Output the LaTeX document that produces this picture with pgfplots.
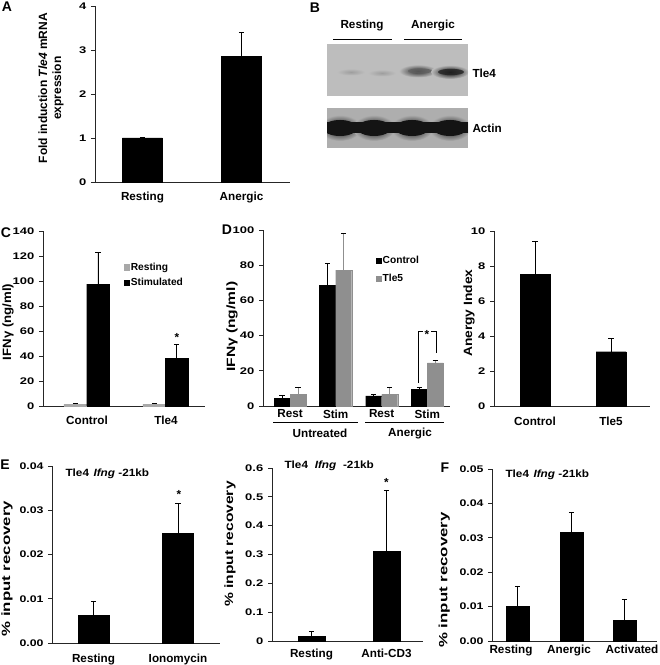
\documentclass[border=0pt]{standalone}
\usepackage{graphicx}
\usepackage{pgfplots}
\pgfplotsset{compat=1.18}
\usepackage{fontspec}
\setmainfont{Liberation Sans}
\definecolor{lgray}{HTML}{A8A8A8}
\definecolor{mgray}{HTML}{8F8F8F}
\definecolor{blotA}{HTML}{BDBDBD}
\definecolor{blotB}{HTML}{AEAEAE}
\newcommand{\catfont}{\bfseries\fontsize{11.7}{13}\selectfont}
\newcommand{\numfont}{\bfseries\fontsize{9.6}{11}\selectfont}
\newcommand{\legfont}{\bfseries\fontsize{10.2}{12}\selectfont}
\newcommand{\labfont}{\bfseries\fontsize{12}{14}\selectfont}
\newcommand{\letfont}{\bfseries\fontsize{14}{16}\selectfont}
\newcommand{\titfont}{\bfseries\fontsize{10.5}{12}\selectfont}
\newcommand{\sx}[2]{\scalebox{#1}[1]{#2}}
\pgfplotsset{
  panel/.style={
    scale only axis, anchor=south west, clip=false,
    axis x line*=bottom, axis y line*=left,
    axis line style={-, line width=0.8pt, black!85},
    ymin=0,
    ytick align=outside, xtick align=inside, major tick length=4pt,
    ytick style={line width=0.7pt, black!85},
    xtick style={draw=none},
    xticklabel style={font=\catfont},
    yticklabel style={font=\numfont, xscale=1.35},
    /pgf/number format/assume math mode=true,
    scaled y ticks=false,
    ylabel style={font=\labfont, align=center},
    legend image code/.code={\fill[##1] (0pt,-2.6pt) rectangle (5.2pt,2.6pt);},
    legend style={draw=none, fill=none, font=\legfont, inner sep=0pt, row sep=4pt, nodes={inner sep=1.5pt}, cells={anchor=west}},
  },
  bars/.style={ybar, bar shift=0pt, bar width=#1,
    /pgfplots/error bars/y dir=plus, /pgfplots/error bars/y explicit,
    /pgfplots/error bars/error bar style={line width=0.7pt},
    /pgfplots/error bars/error mark options={rotate=90, mark size=2.6pt, line width=0.7pt}},
}
\begin{document}
\begin{tikzpicture}

\begin{scope}[x=1pt,y=1pt]
% ---------- panel letters
\node[font=\letfont] at (7,658) {A};
\node[font=\letfont] at (315,657) {B};
\node[font=\letfont] at (6,432) {C};
\node[font=\letfont] at (227,435) {D};
\node[font=\letfont] at (5,200) {E};
\node[font=\letfont] at (445,197) {F};

% ---------- B (western blot)
\begin{scope}
\clip (327,569) rectangle (468,621);
\fill[blotA] (327,569) rectangle (468,621);
\shade[inner color=black!38, outer color=blotA] (351,593) ellipse (14 and 3.5);
\shade[inner color=black!38, outer color=blotA] (382,592) ellipse (14 and 3.5);
\shade[inner color=black!85, outer color=blotA] (418,594) ellipse (19 and 6.5);
\fill[black!62, opacity=0.8] (420,594) ellipse (12 and 2.6);
\shade[inner color=black, outer color=blotA] (450,593) ellipse (19 and 7);
\fill[black!85, opacity=0.85] (451,593) ellipse (13 and 3.2);
\end{scope}
\begin{scope}
\clip (327,517) rectangle (468,557);
\fill[blotB] (327,517) rectangle (468,557);
\foreach \cx in {340,374,412,450} {\shade[inner color=black, outer color=blotB] (\cx,537) ellipse (21 and 13);}
\foreach \cx in {340,374,412,450} {\fill[black!92] (\cx,537) ellipse (17 and 8);}
\fill[black!92] (327,531.5) rectangle (468,542.5);
\end{scope}
\node[font=\catfont] at (362,639) {Resting};
\draw[line width=0.8pt] (333,626) -- (392,626);
\node[font=\catfont] at (433,639) {Anergic};
\draw[line width=0.8pt] (404,626) -- (462,626);
\node[font=\catfont, anchor=west] at (469,592) {Tle4};
\node[font=\catfont, anchor=west] at (469,537) {Actin};
\end{scope}

% ---------- A
\begin{axis}[panel, at={(95pt,483pt)}, width=195pt, height=176pt,
  xmin=95, xmax=290, ymax=4, ytick={0,1,2,3,4},
  xtick={142.5,241.5}, xticklabels={Resting,Anergic},
  xticklabel style={yshift=-6pt},
  ylabel={Fold induction \textit{Tle4} mRNA\\expression},
  ylabel style={at={(axis description cs:-0.2256,0.534)}, anchor=center}]
\addplot[bars=40, fill=black, draw=black] coordinates {(142.5,1.0) +- (0,0.01) (241.5,2.85) +- (0,0.55)};
\end{axis}

% ---------- C
\begin{axis}[panel, at={(43pt,259pt)}, width=162pt, height=175pt,
  xmin=43, xmax=205, ymax=140, ytick={0,20,40,60,80,100,120,140},
  xtick={87,166}, xticklabels={Control,Tle4},
  xticklabel style={yshift=-6pt},
  ylabel={\sx{1.1}{IFNγ (ng/ml)}},
  ylabel style={at={(axis description cs:-0.216,0.48)}, anchor=center},
  legend style={at={(axis cs:123.5,116)}, anchor=north west}]
\addplot[bars=23, fill=lgray, draw=lgray] coordinates {(75.5,1.5) +- (0,0.5) (154.5,1.5) +- (0,0.5)};
\addlegendentry{Resting}
\addplot[bars=22.5, fill=black, draw=black] coordinates {(98,97.5) +- (0,25.5) (176.5,38.3) +- (0,10.8)};
\addlegendentry{Stimulated}
\node[font=\catfont] at (axis cs:177,55) {*};
\end{axis}

% ---------- D
\begin{axis}[panel, at={(263pt,259pt)}, width=187pt, height=176pt,
  xmin=263, xmax=450, ymax=100, ytick={0,20,40,60,80,100},
  xtick={290,335.7,381.7,427.3}, xticklabels={Rest,Stim,Rest,Stim},
  ylabel={\sx{1.3}{IFNγ (ng/ml)}},
  ylabel style={at={(axis description cs:-0.166,0.45)}, anchor=center},
  legend style={at={(axis cs:375.4,86)}, anchor=north west, row sep=6pt}]
\addplot[bars=16, fill=black, draw=black] coordinates {(282,4.2) +- (0,1.6) (327.5,68.5) +- (0,12.5) (373.7,5.7) +- (0,0.7) (419.5,9.3) +- (0,1.1)};
\addlegendentry{Control}
\addplot[bars=16, fill=mgray, draw=mgray] coordinates {(298,6.6) +- (0,4.2) (343.7,77.2) +- (0,20.8) (389.7,6.6) +- (0,4.2) (435.3,24.5) +- (0,1.5)};
\addlegendentry{Tle5}
\addplot[black, line width=0.6pt, forget plot] coordinates {(418,13) (418,42.6) (423,42.6)};
\addplot[black, line width=0.6pt, forget plot] coordinates {(431,42.6) (436,42.6) (436,30)};
\node[font=\catfont] at (axis cs:427,40.5) {*};
\draw[line width=0.8pt] (axis cs:273,-9.1) -- (axis cs:358,-9.1);
\draw[line width=0.8pt] (axis cs:365,-9.1) -- (axis cs:444,-9.1);
\node[font=\catfont] at (axis cs:320,-15.5) {Untreated};
\node[font=\catfont] at (axis cs:410,-15.5) {Anergic};
\end{axis}

% ---------- Anergy index
\begin{axis}[panel, at={(494pt,259pt)}, width=156pt, height=175pt,
  xmin=494, xmax=650, ymax=10, ytick={0,2,4,6,8,10},
  xtick={535,611}, xticklabels={Control,Tle5},
  xticklabel style={yshift=-7pt},
  ylabel={\sx{1.15}{Anergy Index}},
  ylabel style={at={(axis description cs:-0.16,0.53)}, anchor=center}]
\addplot[bars=30, fill=black, draw=black] coordinates {(535,7.53) +- (0,1.86) (611,3.1) +- (0,0.77)};
\end{axis}

% ---------- E
\begin{axis}[panel, at={(52pt,22pt)}, width=168pt, height=177pt,
  xmin=52, xmax=220, ymax=0.04, ytick={0,0.01,0.02,0.03,0.04},
  yticklabel style={xscale=0.95, /pgf/number format/fixed, /pgf/number format/fixed zerofill, /pgf/number format/precision=2},
  xtick={93.5,178}, xticklabels={Resting,Ionomycin},
  xticklabel style={yshift=-7pt},
  ylabel={\sx{1.4}{\% input recovery}},
  ylabel style={at={(axis description cs:-0.268,0.42)}, anchor=center}]
\addplot[bars=31, fill=black, draw=black] coordinates {(93.5,0.0062) +- (0,0.0031) (178,0.0248) +- (0,0.0068)};
\node[font=\catfont] at (axis cs:179,0.0335) {*};
\node[font=\titfont, anchor=west] at (axis cs:62,0.0382) {\sx{1.12}{Tle4\hspace{4pt}\textit{Ifng} -21kb}};
\end{axis}

% ---------- E2
\begin{axis}[panel, at={(272pt,24pt)}, width=151pt, height=173pt,
  xmin=272, xmax=423, ymax=0.6, ytick={0,0.1,0.2,0.3,0.4,0.5,0.6},
  yticklabel style={/pgf/number format/fixed, /pgf/number format/precision=1},
  xtick={311.5,386.5}, xticklabels={Resting,Anti-CD3},
  xticklabel style={yshift=-4pt},
  ylabel={\sx{1.3}{\% input recovery}},
  ylabel style={at={(axis description cs:-0.278,0.56)}, anchor=center}]
\addplot[bars=27, fill=black, draw=black] coordinates {(311.5,0.015) +- (0,0.017) (386.5,0.31) +- (0,0.212)};
\node[font=\catfont] at (axis cs:386.5,0.55) {*};
\node[font=\titfont, anchor=west] at (axis cs:281,0.607) {\sx{1.12}{Tle4\hspace{6pt}\textit{Ifng}\hspace{6pt}-21kb}};
\end{axis}

% ---------- F
\begin{axis}[panel, at={(492pt,24pt)}, width=165pt, height=172pt,
  xmin=492, xmax=657, ymax=0.05, ytick={0,0.01,0.02,0.03,0.04,0.05},
  yticklabel style={xscale=0.95, /pgf/number format/fixed, /pgf/number format/fixed zerofill, /pgf/number format/precision=2},
  xtick={511,569,632}, xticklabels={Resting,Anergic,Activated},
  ylabel={\sx{1.4}{\% input recovery}},
  ylabel style={at={(axis description cs:-0.29,0.355)}, anchor=center}]
\addplot[bars=23, fill=black, draw=black] coordinates {(517.5,0.010) +- (0,0.006) (571.5,0.0315) +- (0,0.0058) (624.5,0.006) +- (0,0.006)};
\node[font=\titfont, anchor=west] at (axis cs:502,0.0483) {\sx{1.12}{Tle4\hspace{4pt}\textit{Ifng} -21kb}};
\end{axis}

\pgfresetboundingbox
\useasboundingbox (0pt,0pt) rectangle (660pt,665pt);
\end{tikzpicture}
\end{document}
